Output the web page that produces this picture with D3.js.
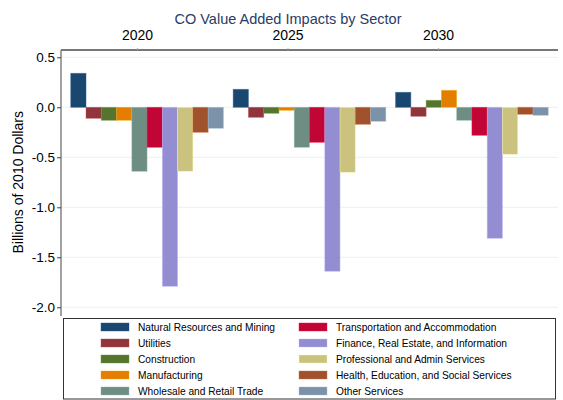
<!DOCTYPE html>
<html>
<head>
<meta charset="utf-8">
<script src="https://cdn.jsdelivr.net/npm/d3@7"></script>
<style>
  body { margin: 0; background: #fff; }
  text { font-family: "Liberation Sans", Arial, Helvetica, sans-serif; }
</style>
</head>
<body>
<div id="chart"></div>
<script>
var width = 563;
var height = 400;

// data
var years = ["2020", "2025", "2030"];
var sectors = [
  "Natural Resources and Mining",
  "Utilities",
  "Construction",
  "Manufacturing",
  "Wholesale and Retail Trade",
  "Transportation and Accommodation",
  "Finance, Real Estate, and Information",
  "Professional and Admin Services",
  "Health, Education, and Social Services",
  "Other Services"
];
var values2020 = [0.34, -0.11, -0.13, -0.13, -0.64, -0.40, -1.79, -0.64, -0.25, -0.21];
var values2025 = [0.18, -0.10, -0.06, -0.03, -0.40, -0.35, -1.64, -0.65, -0.17, -0.14];
var values2030 = [0.15, -0.09, 0.07, 0.17, -0.13, -0.28, -1.31, -0.47, -0.07, -0.08];
var yTicks = [0.5, 0, -0.5, -1.0, -1.5, -2.0];
var colors = ["#1a476f", "#90353b", "#55752f", "#e37e00", "#6e8e84",
              "#c10534", "#938dd2", "#cac27e", "#a0522d", "#7b92a8"];

var byYear = { "2020": values2020, "2025": values2025, "2030": values2030 };

var plot = { left: 61, right: 558, top: 50, bottom: 316 };

var svg = d3.select("#chart")
  .append("svg")
  .attr("width", width)
  .attr("height", height)
  .style("display", "block");

var x0 = d3.scaleBand()
  .domain(years)
  .range([plot.left, plot.right])
  .paddingInner(0.06)
  .paddingOuter(0.06);

var x1 = d3.scaleBand()
  .domain(sectors)
  .range([0, x0.bandwidth()])
  .padding(0);

var y = d3.scaleLinear()
  .domain([-2.087, 0.573])
  .range([plot.bottom, plot.top]);

var color = d3.scaleOrdinal().domain(sectors).range(colors);

// gridlines
svg.append("g")
  .selectAll("line")
  .data(yTicks)
  .enter()
  .append("line")
  .attr("x1", plot.left)
  .attr("x2", plot.right)
  .attr("y1", d => y(d))
  .attr("y2", d => y(d))
  .attr("stroke", "#eaf2f3")
  .attr("stroke-width", 1);

// bars
var groups = svg.append("g")
  .selectAll("g")
  .data(years)
  .enter()
  .append("g")
  .attr("transform", d => "translate(" + x0(d) + ",0)");

groups.selectAll("rect")
  .data(yr => byYear[yr].map((v, i) => ({ sector: sectors[i], value: v })))
  .enter()
  .append("rect")
  .attr("x", d => x1(d.sector))
  .attr("width", x1.bandwidth())
  .attr("y", d => y(Math.max(0, d.value)))
  .attr("height", d => Math.abs(y(d.value) - y(0)))
  .attr("fill", d => color(d.sector))
  .attr("stroke", d => d3.color(color(d.sector)).brighter(0.8))
  .attr("stroke-opacity", 0.5)
  .attr("stroke-width", 0.8);

// y axis
var fmt = d => d3.format(".1f")(d).replace("\u2212", "-");
var yAxis = svg.append("g")
  .attr("transform", "translate(" + plot.left + ",0)")
  .call(d3.axisLeft(y).tickValues(yTicks).tickFormat(fmt).tickSize(4).tickPadding(2));
yAxis.select(".domain").attr("d", "M0," + plot.top + "V" + plot.bottom).attr("stroke", "#444");
yAxis.selectAll(".tick line").attr("stroke", "#444");
yAxis.selectAll("text").style("font-size", "13.5px").attr("fill", "#000");

// top axis with the year labels
var xTop = d3.scalePoint()
  .domain(years)
  .range([plot.left + 76, plot.left + 377]);

var topAxis = svg.append("g")
  .attr("transform", "translate(0," + plot.top + ")")
  .call(d3.axisTop(xTop).tickSize(2).tickPadding(8));
topAxis.select(".domain")
  .attr("d", "M" + plot.left + ",0H" + plot.right)
  .attr("stroke", "#777")
  .attr("stroke-width", 2);
topAxis.selectAll(".tick line").attr("stroke", "#aaa");
topAxis.selectAll("text").style("font-size", "14px").attr("fill", "#000");

// titles
svg.append("text")
  .attr("x", 288)
  .attr("y", 24)
  .attr("text-anchor", "middle")
  .style("font-size", "14.5px")
  .attr("fill", "#2a3b66")
  .text("CO Value Added Impacts by Sector");

svg.append("text")
  .attr("transform", "translate(23," + y(-0.75) + ") rotate(-90)")
  .attr("text-anchor", "middle")
  .style("font-size", "14px")
  .attr("fill", "#000")
  .text("Billions of 2010 Dollars");

// legend
var legend = svg.append("g");
legend.append("rect")
  .attr("x", 63.5)
  .attr("y", 318.5)
  .attr("width", 492)
  .attr("height", 80.5)
  .attr("fill", "#fff")
  .attr("stroke", "#333")
  .attr("stroke-width", 1);

var items = legend.selectAll("g")
  .data(sectors)
  .enter()
  .append("g")
  .attr("transform", (d, i) => "translate(" + (i < 5 ? 101 : 299) + "," + (327 + (i % 5) * 16) + ")");

items.append("rect")
  .attr("x", 0)
  .attr("y", -4)
  .attr("width", 28)
  .attr("height", 8)
  .attr("fill", d => color(d))
  .attr("stroke", d => d3.color(color(d)).brighter(0.8))
  .attr("stroke-opacity", 0.5)
  .attr("stroke-width", 0.8);

items.append("text")
  .attr("x", 37)
  .attr("y", 4)
  .style("font-size", "10.2px")
  .attr("fill", "#000")
  .text(d => d);
</script>
</body>
</html>
